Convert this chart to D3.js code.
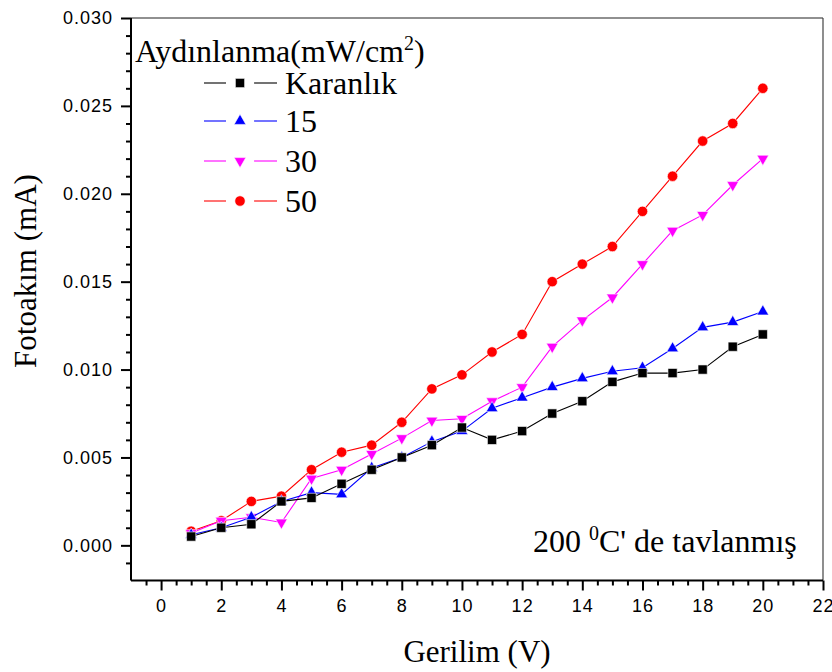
<!DOCTYPE html>
<html>
<head>
<meta charset="utf-8">
<script src="https://cdn.jsdelivr.net/npm/d3@7"></script>
<style>
  html, body { margin: 0; padding: 0; background: #fff; }
  svg { display: block; }
</style>
</head>
<body>
<svg id="chart" width="832" height="672"></svg>
<script>
// Photocurrent vs. voltage for a film annealed at 200 °C, under several illumination levels
const voltage  = [1, 2, 3, 4, 5, 6, 7, 8, 9, 10, 11, 12, 13, 14, 15, 16, 17, 18, 19, 20];
const karanlik = [0.0005, 0.0010, 0.0012, 0.0025, 0.0027, 0.0035, 0.0043, 0.0050, 0.0057, 0.0067,
                  0.0060, 0.0065, 0.0075, 0.0082, 0.0093, 0.0098, 0.0098, 0.0100, 0.0113, 0.0120];
const illum15  = [0.0006, 0.0010, 0.0016, 0.0025, 0.0030, 0.0029, 0.0044, 0.0050, 0.0059, 0.0065,
                  0.0078, 0.0084, 0.0090, 0.0095, 0.0099, 0.0101, 0.0112, 0.0124, 0.0127, 0.0133];
const illum30  = [0.0007, 0.0014, 0.0016, 0.0013, 0.0038, 0.0043, 0.0052, 0.0061, 0.0071, 0.0072,
                  0.0082, 0.0090, 0.0113, 0.0128, 0.0141, 0.0160, 0.0179, 0.0188, 0.0205, 0.0220];
const illum50  = [0.0008, 0.0014, 0.0025, 0.0028, 0.0043, 0.0053, 0.0057, 0.0070, 0.0089, 0.0097,
                  0.0110, 0.0120, 0.0150, 0.0160, 0.0170, 0.0190, 0.0210, 0.0230, 0.0240, 0.0260];

const seriesNames  = ["Karanlık", "15", "30", "50"];
const seriesValues = [karanlik, illum15, illum30, illum50];
const seriesColors = ["#000000", "#0000ff", "#ff00ff", "#ff0000"];
const seriesShapes = ["square", "triangleUp", "triangleDown", "circle"];

const xTickValues = [0, 2, 4, 6, 8, 10, 12, 14, 16, 18, 20, 22];
const yTickValues = [0.000, 0.005, 0.010, 0.015, 0.020, 0.025, 0.030];

const legendTitle = "Aydınlanma(mW/cm";
const xTitle = "Gerilim (V)";
const yTitle = "Fotoakım (mA)";

const svg = d3.select("#chart");
const serif = "'Liberation Serif', 'Times New Roman', serif";
const sans  = "'Liberation Sans', Arial, sans-serif";

const plot = { left: 131, right: 823, top: 18, bottom: 580.5 };
const x = d3.scaleLinear().domain([-1, 22]).range([plot.left, plot.right]);
const y = d3.scaleLinear().domain([-0.002, 0.030]).range([plot.bottom, plot.top]);

// frame: thin top and right edges
svg.append("line").attr("x1", plot.left).attr("x2", plot.right).attr("y1", plot.top).attr("y2", plot.top)
  .attr("stroke", "#222").attr("stroke-width", 1.2);
svg.append("line").attr("x1", plot.right).attr("x2", plot.right).attr("y1", plot.top).attr("y2", plot.bottom)
  .attr("stroke", "#444").attr("stroke-width", 1.2);

// minor ticks
const xMinor = d3.range(-0.5, 22, 0.5).filter(v => Math.abs(v % 2) > 1e-9);
const yMinor = d3.range(-1, 30, 1).map(v => v / 1000).filter(v => Math.round(v * 1000) % 5 !== 0);

const gx = svg.append("g").attr("transform", `translate(0,${plot.bottom})`);
gx.call(d3.axisBottom(x).tickValues(xMinor).tickSize(5).tickFormat(""));
gx.call(g => g.selectAll(".domain").remove());
const gxMajor = svg.append("g").attr("transform", `translate(0,${plot.bottom})`)
  .call(d3.axisBottom(x).tickValues(xTickValues).tickSize(10).tickPadding(8).tickFormat(d3.format("d")))
  .call(g => g.select(".domain").attr("d", `M${plot.left},0H${plot.right}`));

const gy = svg.append("g").attr("transform", `translate(${plot.left},0)`);
gy.call(d3.axisLeft(y).tickValues(yMinor).tickSize(5).tickFormat(""));
gy.call(g => g.selectAll(".domain").remove());
const gyMajor = svg.append("g").attr("transform", `translate(${plot.left},0)`)
  .call(d3.axisLeft(y).tickValues(yTickValues).tickSize(10).tickPadding(8).tickFormat(d3.format(".3f")))
  .call(g => g.select(".domain").attr("d", `M0,${plot.top}V${plot.bottom}`));

svg.selectAll(".tick line").attr("stroke", "#000").attr("stroke-width", 2);
svg.selectAll(".domain").attr("stroke", "#000").attr("stroke-width", 2).attr("fill", "none");
svg.selectAll(".tick text").attr("font-family", sans).attr("font-size", 18).attr("fill", "#000")
  .attr("letter-spacing", "1px");
gxMajor.selectAll(".tick text").attr("dy", "0.75em");

// marker paths
const symbolPath = {
  square:       d3.symbol().type(d3.symbolSquare).size(85)(),
  circle:       d3.symbol().type(d3.symbolCircle).size(85)(),
  triangleUp:   d3.symbol().type(d3.symbolTriangle).size(60)(),
  triangleDown: d3.symbol().type(d3.symbolTriangle).size(60)()
};
function marker(sel, shape, color) {
  sel.append("path")
    .attr("d", symbolPath[shape])
    .attr("transform", d => `translate(${d[0]},${d[1]})` + (shape === "triangleDown" ? " rotate(180)" : ""))
    .attr("fill", color)
    .attr("stroke", "#fff").attr("stroke-width", 0.6);
}

const line = d3.line().x(d => x(d[0])).y(d => y(d[1]));

// draw in reverse so the dark series sits on top
for (let i = seriesValues.length - 1; i >= 0; i--) {
  const pts = voltage.map((v, k) => [v, seriesValues[i][k]]);
  const g = svg.append("g");
  g.append("path").attr("d", line(pts)).attr("fill", "none")
    .attr("stroke", seriesColors[i]).attr("stroke-width", 1.1);
  const m = g.selectAll("g.pt").data(pts.map(p => [x(p[0]), y(p[1])])).join("g").attr("class", "pt");
  marker(m, seriesShapes[i], seriesColors[i]);
}

// legend
const lg = svg.append("g");
lg.append("text").attr("x", 135).attr("y", 62)
  .attr("font-family", serif).attr("font-size", 32).attr("fill", "#000")
  .call(t => {
    t.append("tspan").text(legendTitle);
    t.append("tspan").attr("font-size", 20).attr("dy", -12).text("2");
    t.append("tspan").attr("dy", 12).text(")");
  });
const legendRows = [83, 121, 161, 201];
seriesNames.forEach((name, i) => {
  const yy = legendRows[i];
  lg.append("line").attr("x1", 204).attr("x2", 226).attr("y1", yy).attr("y2", yy)
    .attr("stroke", seriesColors[i]).attr("stroke-width", 1.1);
  lg.append("line").attr("x1", 254).attr("x2", 277).attr("y1", yy).attr("y2", yy)
    .attr("stroke", seriesColors[i]).attr("stroke-width", 1.1);
  const m = lg.selectAll(null).data([[240, yy]]).join("g");
  marker(m, seriesShapes[i], seriesColors[i]);
  lg.append("text").attr("x", 285).attr("y", yy + 11)
    .attr("font-family", serif).attr("font-size", 32).attr("fill", "#000").text(name);
});

// annotation
svg.append("text").attr("x", 533).attr("y", 552)
  .attr("font-family", serif).attr("font-size", 32).attr("fill", "#000")
  .call(t => {
    t.append("tspan").text("200 ");
    t.append("tspan").attr("font-size", 20).attr("dy", -12).text("0");
    t.append("tspan").attr("dy", 12).text("C' de tavlanmış");
  });

// axis titles
svg.append("text").attr("x", 477).attr("y", 662).attr("text-anchor", "middle")
  .attr("font-family", serif).attr("font-size", 31).attr("fill", "#000").text(xTitle);
svg.append("text").attr("transform", "translate(36,271) rotate(-90)").attr("text-anchor", "middle")
  .attr("font-family", serif).attr("font-size", 31).attr("fill", "#000").text(yTitle);
</script>
</body>
</html>
